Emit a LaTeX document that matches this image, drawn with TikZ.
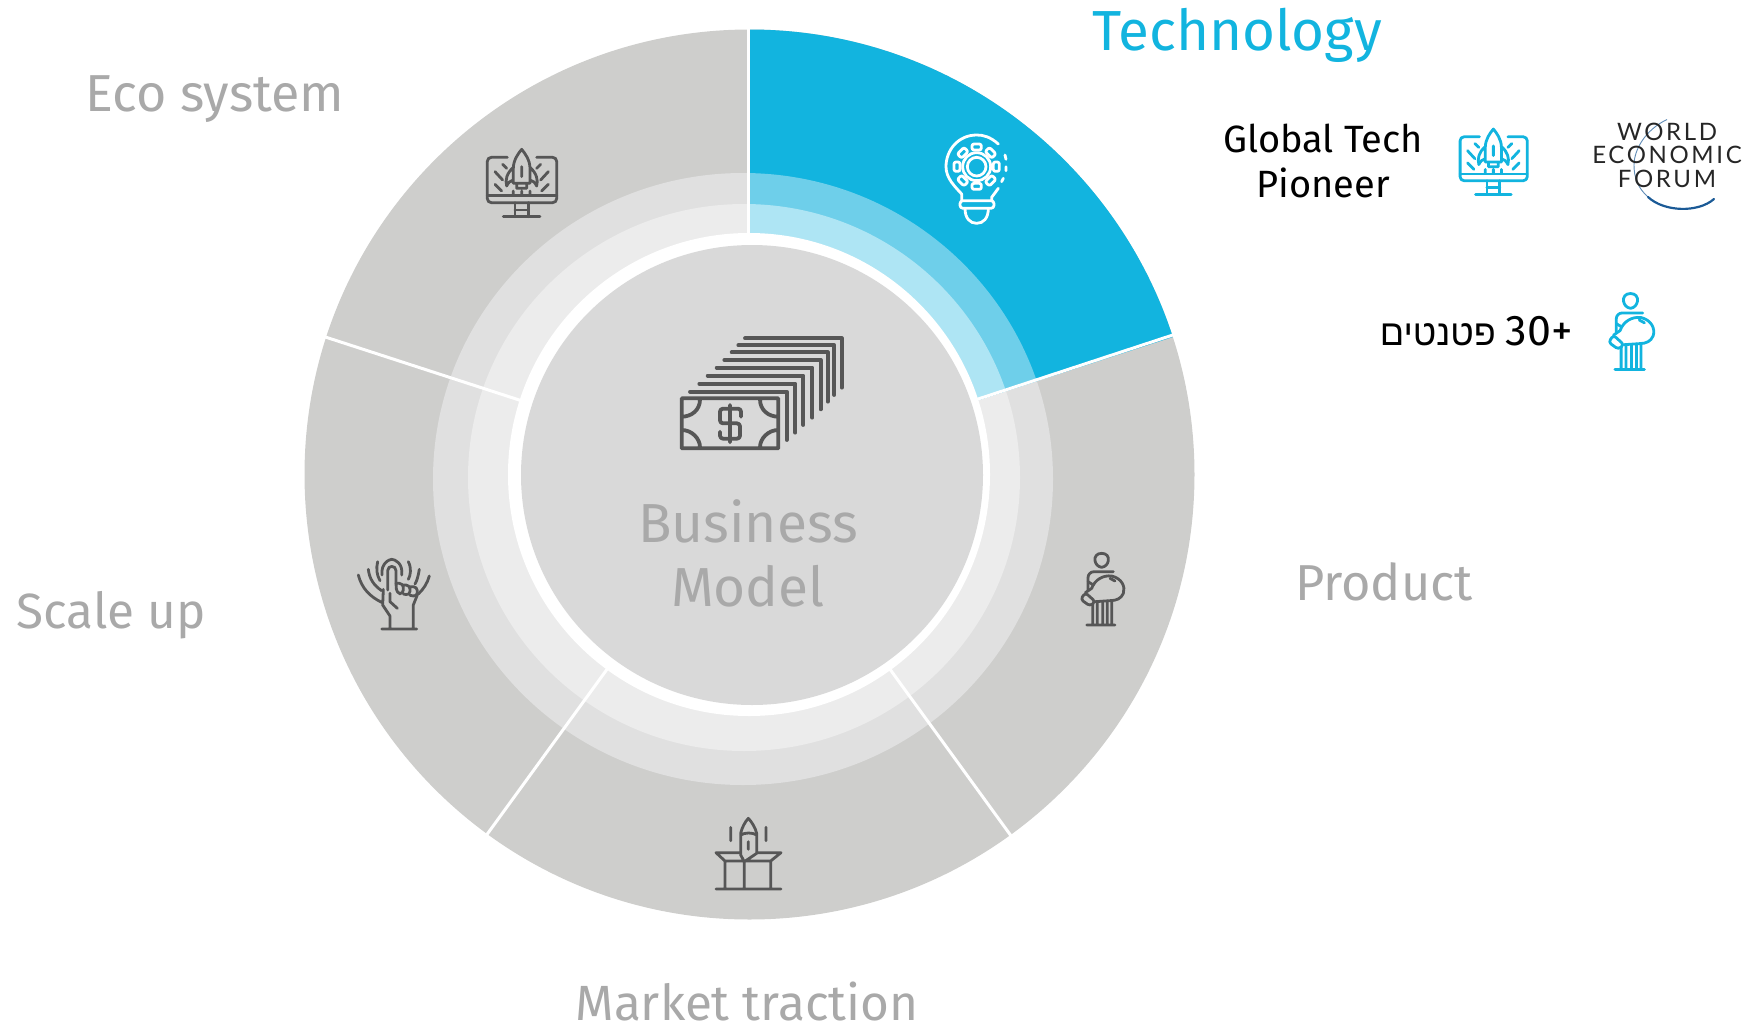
\documentclass[tikz,border=0pt]{standalone}
\usepackage{fontspec}
\setmainfont{Fira Sans}
\newfontfamily\hebfont[Script=Hebrew]{Liberation Sans}
\newfontfamily\weffont[LetterSpace=11]{Lato}
\TeXXeTstate=1
\definecolor{sectorgray}{HTML}{CECECC}
\definecolor{ringone}{HTML}{E0E0E0}
\definecolor{ringtwo}{HTML}{ECECEC}
\definecolor{discgray}{HTML}{D9D9D9}
\definecolor{techblue}{HTML}{12B4DF}
\definecolor{techone}{HTML}{6ECFEA}
\definecolor{techtwo}{HTML}{AEE5F4}
\definecolor{icongray}{HTML}{565656}
\definecolor{labelgray}{HTML}{A9A9A9}
\definecolor{wefblue}{HTML}{1B5A96}
\tikzset{
  x=1pt,y=-1pt,
  ico/.style={line width=2.8pt,line cap=round,line join=round},
  moneyline/.style={line width=3.8pt,icongray,line cap=round,line join=round},
  bigtext/.style={inner sep=0pt,outer sep=0pt,anchor=base,text=labelgray},
  pics/rocketmon/.style={code={
    \draw[ico,#1,rounded corners=4pt] (142,82) -| (82,218) -| (290,82) -- (230,82);
    \draw[ico,#1] (82,197) -- (290,197)
      (165,218) -- (165,260) (205,218) -- (205,260) (165,240) -- (205,240)
      (130,260) -- (240,260);
    \draw[ico,#1] (160,115) .. controls (160,90) and (175,70) .. (185,58)
        .. controls (195,70) and (210,90) .. (210,115) -- (210,160) -- (160,160) -- cycle
      (160,112) .. controls (140,130) and (135,150) .. (140,168) .. controls (145,158) and (150,152) .. (160,150)
      (210,112) .. controls (230,130) and (235,150) .. (230,168) .. controls (225,158) and (220,152) .. (210,150)
      (170,160) -- (170,175) -- (200,175) -- (200,160)
      (185,110) -- (185,140)
      (160,183) -- (160,195) (185,183) -- (185,195) (210,183) -- (210,195)
      (128,103) -- (140,115) (105,125) -- (128,150) (105,163) -- (125,183)
      (242,103) -- (230,115) (265,125) -- (242,150) (265,163) -- (245,183);
  }},
  pics/bulbman/.style={code={
    \draw[ico,#1] (125,40) .. controls (110,40) and (103,50) .. (105,62)
        .. controls (107,72) and (113,80) .. (125,82) .. controls (137,80) and (143,72) .. (145,62)
        .. controls (147,50) and (140,40) .. (125,40);
    \draw[ico,#1,rounded corners=6pt] (84,150) -- (84,95) -- (160,95);
    \draw[ico,#1] (84,125) -- (100,135);
    \draw[ico,#1] (76,158) -- (95,145) .. controls (105,118) and (130,105) .. (155,108)
        .. controls (185,115) and (197,140) .. (190,160)
        .. controls (184,175) and (170,182) .. (150,182) -- (106,185);
    \draw[ico,#1,rounded corners=3pt] (62,178) -- (76,158) -- (106,185) -- (90,198) -- cycle;
    \draw[ico,#1] (150,115) -- (165,123)
      (98,192) -- (98,255) (112,185) -- (112,255) (128,185) -- (128,255)
      (142,183) -- (142,255) (155,182) -- (155,255) (80,255) -- (165,255);
  }},
}
\begin{document}
\begin{tikzpicture}
\useasboundingbox (0,0) rectangle (1757,1031);
% disc layers
\fill[sectorgray] (749.5,474.5) circle[radius=445pt];
\fill[ringone] (743,479) ellipse[x radius=310pt,y radius=306pt];
\fill[ringtwo] (744,477.5) ellipse[x radius=276pt,y radius=273.5pt];
% technology sector
\begin{scope}
  \clip (749,474.5) -- ++(0,-700) -- ++(700,0) -- (1749.5,150) -- cycle;
  \fill[techblue] (749.5,474.5) circle[radius=445pt];
  \fill[techone] (743,479) ellipse[x radius=310pt,y radius=306pt];
  \fill[techtwo] (744,477.5) ellipse[x radius=276pt,y radius=273.5pt];
\end{scope}
% white separators
\begin{scope}[shift={(748.5,474.5)}]
  \foreach \a in {-90,-18.2,54,126,198}
    \draw[white,line width=3pt] (\a:238) -- (\a:447);
\end{scope}
\fill[white] (749,474.5) ellipse[x radius=241pt,y radius=241.5pt];
\fill[discgray] (752,475) ellipse[x radius=231pt,y radius=230pt];

% money icon
\begin{scope}[shift={(640,310)},scale=1/3]
  \draw[moneyline] (125,265) rectangle (415,415)
    (125,320) .. controls (155,320) and (180,300) .. (180,268)
    (360,268) .. controls (360,300) and (385,320) .. (415,320)
    (125,360) .. controls (155,360) and (180,385) .. (180,412)
    (360,412) .. controls (360,385) and (385,360) .. (415,360);
  \draw[moneyline,rounded corners=3pt]
    (303,320) -- (303,296) -- (240,296) -- (240,340) -- (300,340) -- (300,386) -- (240,386) -- (240,365)
    (270,285) -- (270,397);
  \foreach \xa/\ya/\xb/\yb in {150/245/440/390,178/221/466/368,203/197/490/345,230/173/517/323,253/150/542/298,275/127/563/275,295/106/583/255,315/85/605/233}
    \draw[moneyline] (\xa,\ya) -- (\xb,\ya) -- (\xb,\yb);
\end{scope}

% sector icons
\pic[scale=1/3] at (460,130) {rocketmon=icongray};
\pic[scale=1/3] at (1060,540) {bulbman=icongray};
% light bulb with gear
\begin{scope}[shift={(920,120)},scale=1/3]
  \draw[ico,white] (235,72) .. controls (210,50) and (190,45) .. (170,45)
     .. controls (115,45) and (78,90) .. (78,140)
     .. controls (78,175) and (105,200) .. (125,222) -- (125,240)
     (215,240) -- (215,232) -- (235,205)
     (255,105) -- (258,118) (258,140) -- (258,152) (250,175) -- (245,185);
  \draw[ico,white,rounded corners=3pt] (120,242) rectangle (222,265);
  \draw[ico,white] (135,265) .. controls (135,295) and (150,310) .. (170,310)
     .. controls (190,310) and (205,295) .. (205,265);
  \draw[ico,white] (170,140) circle[radius=28] (170,140) circle[radius=42];
  \foreach \a in {0,45,...,315}
    \draw[ico,white,rotate around={\a:(170,140)},rounded corners=2pt] (156,72) rectangle (184,90);
\end{scope}
% hand
\begin{scope}[shift={(340,540)},scale=1/3]
  \draw[ico,icongray] (143,150) -- (143,92) .. controls (143,75) and (168,75) .. (168,92) -- (168,130)
    (126,105) .. controls (122,70) and (148,58) .. (155,58) .. controls (165,58) and (190,70) .. (185,105)
    (113,65) .. controls (108,85) and (110,105) .. (120,122)
    (205,65) .. controls (215,85) and (212,105) .. (205,118)
    (85,88) .. controls (88,115) and (100,135) .. (125,152)
    (238,88) .. controls (235,105) and (232,120) .. (225,132)
    (55,105) .. controls (65,145) and (90,170) .. (125,187)
    (268,108) .. controls (262,130) and (250,148) .. (235,162)
    (150,160) -- (150,185) -- (172,205)
    (130,148) -- (128,195) -- (150,228) -- (150,267)
    (232,165) -- (220,195) -- (220,267)
    (125,267) -- (230,267);
  \draw[ico,icongray,rounded corners=4pt] (168,130) -- (190,130) -- (190,162) -- (170,160) -- (168,130)
    (190,135) -- (210,135) -- (210,166) -- (190,162)
    (210,140) -- (232,140) -- (232,170) -- (210,166);
\end{scope}
% box and rocket
\begin{scope}[shift={(700,800)},scale=1/3]
  \draw[ico,icongray] (122,165) -- (122,100) .. controls (125,85) and (135,65) .. (145,55)
      .. controls (155,65) and (167,85) .. (170,100) -- (170,160) -- (133,185) -- cycle
    (122,105) .. controls (135,97) and (157,97) .. (170,105)
    (145,125) -- (145,148) (92,82) -- (92,122) (198,82) -- (198,122)
    (122,158) -- (48,158) -- (75,183) -- (212,183) -- (243,158) -- (170,158)
    (75,183) -- (75,267) (133,183) -- (133,267) (212,183) -- (212,267)
    (48,267) -- (243,267);
\end{scope}

% right hand icons
\pic[scale=.323] at (1433.6,110.3) {rocketmon=techblue};
\pic[xscale=.348,yscale=.353] at (1587,279.4) {bulbman=techblue};

% WEF arc
\draw[wefblue!70,line width=.9pt] (1667,119.5) .. controls (1645,130) and (1634,150) .. (1634,165)
   .. controls (1634,178) and (1638,188) .. (1648,197);
\draw[wefblue,line width=2.2pt,line cap=round] (1648,197) .. controls (1664,212) and (1698,213) .. (1714,199);

% texts
\node[bigtext,text=techblue,font=\fontsize{56.5}{60}\selectfont] (tech) at (1237,50) {Technology};
\node[bigtext,font=\fontsize{52}{54}\selectfont] (eco) at (215,111) {Eco system};
\node[bigtext,font=\fontsize{50.5}{54}\selectfont] (prod) at (1384,600) {Product};
\node[bigtext,font=\fontsize{49.5}{54}\selectfont] (scale) at (111,628) {Scale up};
\node[bigtext,font=\fontsize{49.5}{54}\selectfont] (market) at (747,1020.5) {Market traction};
\node[inner sep=0pt,text=labelgray,align=center,font=\fontsize{55}{64}\selectfont] (biz) at (748,553) {Business\\Model};
\node[inner sep=0pt,text=black,align=center,font=\fontsize{38}{45}\selectfont] (gtp) at (1323,161) {Global Tech\\Pioneer};
\node[inner sep=0pt,anchor=base east,text=black,font=\fontsize{36}{40}\hebfont] (pat) at (1573,345) {\beginR\beginL{\normalfont\fontsize{43}{46}\selectfont 30+}\endL{} פטנטים\endR};
\node[inner sep=0pt,anchor=base,text=black!85,font=\fontsize{24}{26}\weffont] (w1) at (1667,140) {WORLD};
\node[inner sep=0pt,anchor=base,text=black!85,font=\fontsize{24}{26}\weffont] (w2) at (1667,163.5) {ECONOMIC};
\node[inner sep=0pt,anchor=base,text=black!85,font=\fontsize{24}{26}\weffont] (w3) at (1667,187) {FORUM};
\end{tikzpicture}
\end{document}
